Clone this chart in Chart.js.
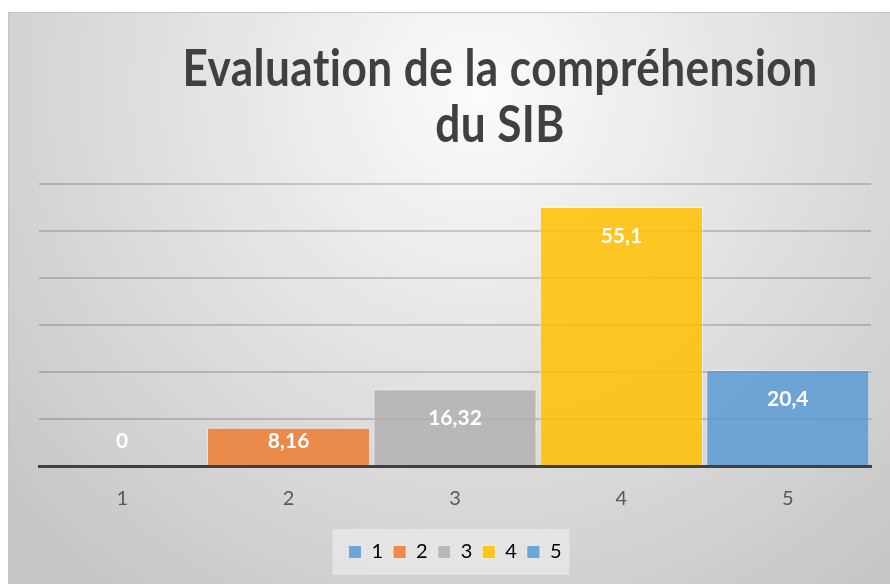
<!DOCTYPE html>
<html>
<head>
<meta charset="utf-8">
<script src="https://cdn.jsdelivr.net/npm/chart.js@4.4.0/dist/chart.umd.min.js"></script>
<style>
  html, body { margin: 0; padding: 0; background: #fff; }
  #wrap { position: absolute; left: 0; top: 0; width: 890px; height: 584px; }
</style>
</head>
<body>
<div id="wrap"><canvas id="evalChart" width="890" height="584"></canvas></div>
<script>
const categories = ['1', '2', '3', '4', '5'];
const values = [0, 8.16, 16.32, 55.1, 20.4];
const barColors = ['rgba(91,155,213,0.85)', 'rgba(237,125,49,0.85)', 'rgba(178,178,178,0.85)', 'rgba(255,192,0,0.85)', 'rgba(91,155,213,0.85)'];
const titleLines = ['Evaluation de la compréhension', 'du SIB'];

const bgPlugin = {
    id: 'bg',
    beforeDraw(chart) {
        const c = chart.ctx;
        c.save();
        c.fillStyle = '#ffffff';
        c.fillRect(0, 0, chart.width, chart.height);
        const g = c.createRadialGradient(480, 90, 0, 480, 90, 620);
        g.addColorStop(0, '#fbfbfb');
        g.addColorStop(1, '#c6c6c6');
        c.fillStyle = g;
        c.fillRect(8, 12, 882, 572);
        c.strokeStyle = '#c4c4c4';
        c.lineWidth = 1;
        c.strokeRect(8.5, 12.5, 882, 572);

        // legend backdrop
        const boxes = chart.legend && chart.legend.legendHitBoxes;
        if (boxes && boxes.length) {
            const x0 = Math.min(...boxes.map(b => b.left)) - 16;
            const x1 = Math.max(...boxes.map(b => b.left + b.width)) + 8;
            const yc = boxes[0].top + boxes[0].height / 2;
            c.fillStyle = 'rgba(235,235,235,0.7)';
            c.fillRect(x0, yc - 23, x1 - x0, 46);
        }

        // title
        c.fillStyle = '#404040';
        c.textAlign = 'center';
        c.textBaseline = 'alphabetic';
        c.font = 'bold 51px Lato';
        c.letterSpacing = '0.5px';
        const w = c.measureText(titleLines[0]).width;
        const sx = 635 / w;
        c.translate(500, 0);
        c.scale(sx, 1);
        c.fillText(titleLines[0], 0, 86);
        c.fillText(titleLines[1], 0, 142);
        c.restore();
    }
};

const valueLabels = {
    id: 'valueLabels',
    afterDatasetsDraw(chart) {
        const c = chart.ctx;
        const meta = chart.getDatasetMeta(0);
        const base = chart.scales.y.getPixelForValue(0);
        c.save();
        c.fillStyle = '#ffffff';
        c.font = 'bold 21px Lato';
        c.textAlign = 'center';
        c.textBaseline = 'middle';
        meta.data.forEach((bar, i) => {
            const y = Math.min(bar.y + 29, base - 25);
            c.fillText(String(values[i]).replace('.', ','), bar.x, y);
        });
        c.restore();
    }
};

const ctx = document.getElementById('evalChart');
const myChart = new Chart(ctx, {
    type: 'bar',
    data: {
        labels: categories,
        datasets: [{
            data: values,
            backgroundColor: barColors,
            borderColor: 'rgba(255,255,255,0.45)',
            borderWidth: 1,
            barPercentage: 0.98,
            categoryPercentage: 1,
        }]
    },
    options: {
        responsive: false,
        animation: false,
        layout: {
            padding: { top: 184, left: 39, right: 19, bottom: 12 }
        },
        plugins: {
            title: { display: false },
            tooltip: { enabled: false },
            legend: {
                display: true,
                position: 'bottom',
                labels: {
                    boxWidth: 13,
                    boxHeight: 13,
                    padding: 10,
                    color: '#595959',
                    font: { family: 'Lato', size: 20 },
                    generateLabels(chart) {
                        return categories.map((cat, i) => ({
                            text: cat,
                            fillStyle: barColors[i],
                            strokeStyle: 'rgba(255,255,255,0.6)',
                            lineWidth: 1,
                            index: i,
                        }));
                    }
                }
            }
        },
        scales: {
            x: {
                grid: { display: false, drawTicks: false },
                border: { display: true, color: '#404040', width: 3 },
                ticks: { color: '#595959', padding: 21, font: { family: 'Lato', size: 20 } }
            },
            y: {
                min: 0,
                max: 60,
                ticks: { display: false, stepSize: 10 },
                border: { display: false },
                grid: { color: 'rgba(0,0,0,0.17)', lineWidth: 2, drawTicks: false }
            }
        }
    },
    plugins: [bgPlugin, valueLabels]
});
</script>
</body>
</html>
